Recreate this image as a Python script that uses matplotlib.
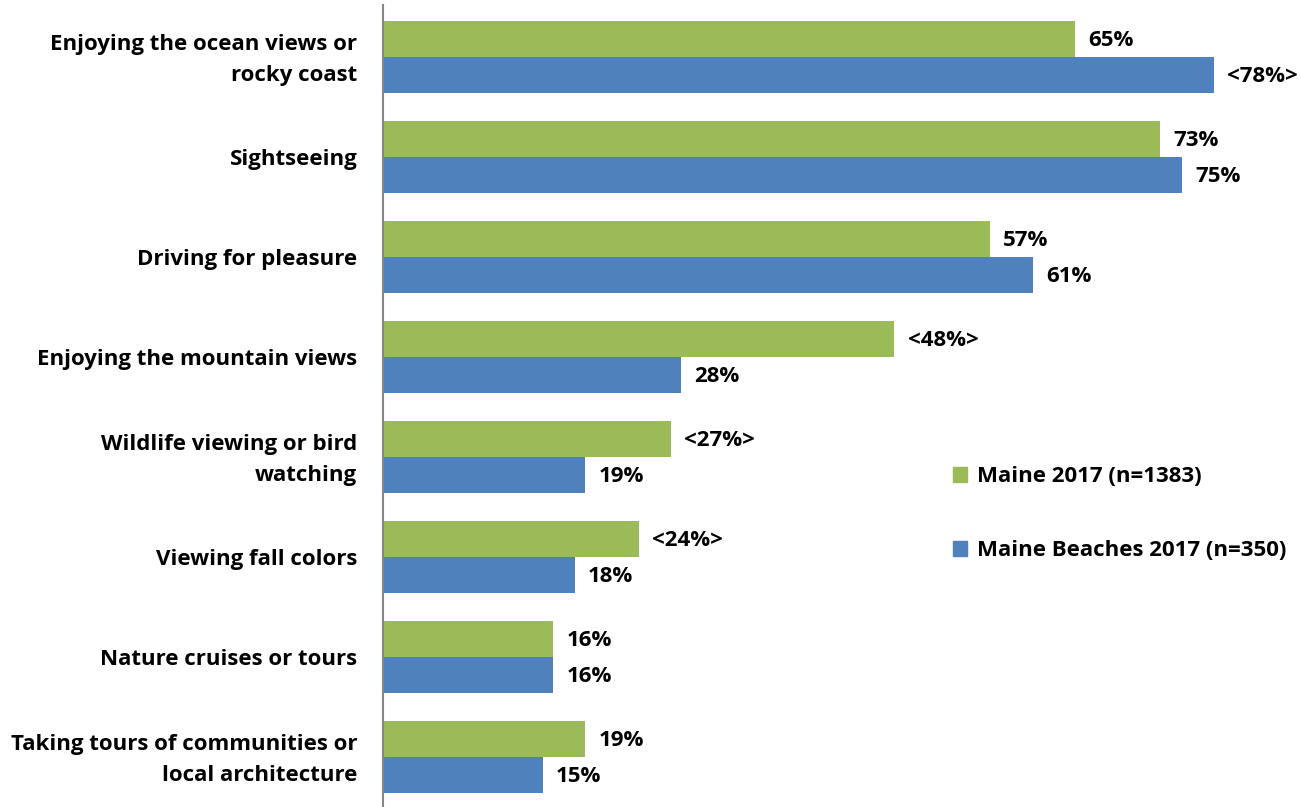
import matplotlib
matplotlib.use("Agg")
import matplotlib.pyplot as plt
import matplotlib.transforms as mtransforms
from matplotlib.patches import Patch
import numpy as np

categories = [
    "Enjoying the ocean views or\nrocky coast",
    "Sightseeing",
    "Driving for pleasure",
    "Enjoying the mountain views",
    "Wildlife viewing or bird\nwatching",
    "Viewing fall colors",
    "Nature cruises or tours",
    "Taking tours of communities or\nlocal architecture",
]
maine = [65, 73, 57, 48, 27, 24, 16, 19]
beaches = [78, 75, 61, 28, 19, 18, 16, 15]
maine_labels = ["65%", "73%", "57%", "<48%>", "<27%>", "<24%>", "16%", "19%"]
beach_labels = ["<78%>", "75%", "61%", "28%", "19%", "18%", "16%", "15%"]
series_names = ["Maine 2017 (n=1383)", "Maine Beaches 2017 (n=350)"]

GREEN = "#9BBB59"
BLUE = "#4F81BD"

plt.rcParams["font.family"] = ["Open Sans", "DejaVu Sans"]
plt.rcParams["font.weight"] = "bold"

W, H = 1301, 807
fig = plt.figure(figsize=(W / 100, H / 100), dpi=100)
ax = fig.add_axes([383 / W, 0, 1 - 383 / W, 800 / H])

n = len(categories)
y = np.arange(n)
bh = 0.36
ax.barh(y - bh / 2, maine, height=bh, color=GREEN)
ax.barh(y + bh / 2, beaches, height=bh, color=BLUE)

ax.set_ylim(n - 0.5, -0.5)
ax.set_xlim(0, (W - 383) / 10.65)

FS = 16
off = 1.25
for i in range(n):
    ax.text(maine[i] + off, y[i] - bh / 2 + 0.02, maine_labels[i], va="center", ha="left",
            fontsize=FS, fontweight="bold", clip_on=False)
    ax.text(beaches[i] + off, y[i] + bh / 2 + 0.02, beach_labels[i], va="center", ha="left",
            fontsize=FS, fontweight="bold", clip_on=False)

ax.set_yticks(y)
ax.set_yticklabels(categories, fontsize=FS, fontweight="bold", linespacing=1.6)
ax.tick_params(axis="y", length=0, pad=18.5)
ax.set_xticks([])

# nudge the two-line category labels up slightly
lift = mtransforms.ScaledTranslation(0, 3 / 72, fig.dpi_scale_trans)
for lbl in ax.get_yticklabels():
    if "\n" in lbl.get_text():
        lbl.set_transform(lbl.get_transform() + lift)

for s in ["top", "right", "bottom"]:
    ax.spines[s].set_visible(False)
ax.spines["left"].set_color("#868686")
ax.spines["left"].set_linewidth(1.5)
ax.spines["left"].set_bounds(n - 0.5 + 0.07, -0.5 - 0.02)

handles = [Patch(color=GREEN), Patch(color=BLUE)]
fig.legend(handles, series_names, loc="upper left",
           bbox_to_anchor=(933 / W, 1 - 446 / H), frameon=False,
           prop={"size": FS, "weight": "bold"}, labelspacing=2.4,
           handlelength=0.65, handleheight=0.65, handletextpad=0.45)

fig.savefig("out.png", dpi=100)
